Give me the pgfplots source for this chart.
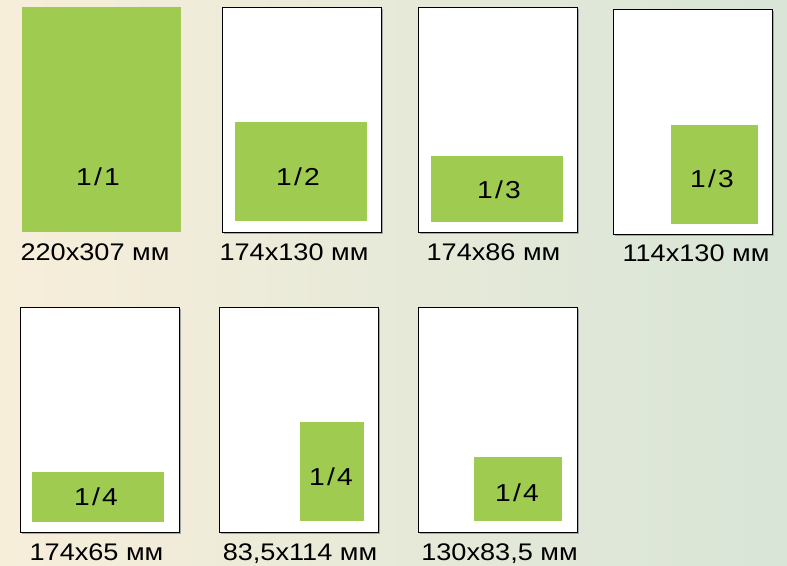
\documentclass[border=0pt]{standalone}
\usepackage{fontspec}
\setmainfont{Liberation Sans}[FakeStretch=1.13]
\newfontfamily\fracfont{Liberation Sans}[FakeStretch=1.15, LetterSpace=9]
\usepackage{pgfplots}
\pgfplotsset{compat=1.18}

\definecolor{bgleft}{HTML}{F7EEDA}
\definecolor{bgright}{HTML}{D8E5D7}
\definecolor{adgreen}{HTML}{9ECB50}

\tikzset{
  frac/.style={font=\fracfont\fontsize{24.5}{29}\selectfont, inner sep=0pt,
               text height=17.5pt, text depth=0pt, anchor=center},
  dim/.style={font=\fontsize{24}{29}\selectfont, inner sep=0pt,
              text height=17.2pt, text depth=0pt, anchor=center},
}

% one rectangle in pixel coordinates: options, x1, y1, x2, y2
\newcommand{\rectbox}[5]{%
  \addplot[#1] coordinates {(#2,#3) (#4,#3) (#4,#5) (#2,#5)} -- cycle;}
% a white page with a thin shadow
\newcommand{\page}[4]{%
  \pgfmathsetmacro{\sa}{#1+1.5}\pgfmathsetmacro{\sb}{#2+1.5}%
  \pgfmathsetmacro{\sc}{#3+1.5}\pgfmathsetmacro{\sd}{#4+1.5}%
  \edef\doshadow{\noexpand\rectbox{draw=none, fill=black!35}{\sa}{\sb}{\sc}{\sd}}%
  \doshadow
  \rectbox{draw=black, line width=1pt, fill=white}{#1}{#2}{#3}{#4}}

\begin{document}
\begin{tikzpicture}
\begin{axis}[
    scale only axis,
    width=787pt, height=565pt,
    xmin=0, xmax=787, ymin=0, ymax=565,
    y dir=reverse,
    hide axis,
    clip=false,
]
% background
\addplot[draw=none, left color=bgleft, right color=bgright]
  coordinates {(0,0) (787,0) (787,565) (0,565)} -- cycle;

% pages
\page{222}{7}{381}{232}
\page{418}{7}{577}{232}
\page{613}{9}{772}{234}
\page{20}{307}{179}{532}
\page{219}{307}{378}{532}
\page{418}{307}{577}{532}

% ad blocks
\rectbox{draw=none, fill=adgreen}{22}{7}{181}{232}
\rectbox{draw=none, fill=adgreen}{235}{122}{367}{221}
\rectbox{draw=none, fill=adgreen}{431}{156}{563}{222}
\rectbox{draw=none, fill=adgreen}{671}{125}{758}{224}
\rectbox{draw=none, fill=adgreen}{32}{472}{164}{522}
\rectbox{draw=none, fill=adgreen}{300}{422}{364}{521}
\rectbox{draw=none, fill=adgreen}{474}{457}{562}{521}

% block labels
\node[frac] at (axis cs:98,177) {1/1};
\node[frac] at (axis cs:298,177) {1/2};
\node[frac] at (axis cs:499,190) {1/3};
\node[frac] at (axis cs:712,179) {1/3};
\node[frac] at (axis cs:96,497) {1/4};
\node[frac] at (axis cs:331,477) {1/4};
\node[frac] at (axis cs:517,493) {1/4};

% sizes
\node[dim] at (axis cs:95,252) {220x307 мм};
\node[dim] at (axis cs:294,252) {174x130 мм};
\node[dim] at (axis cs:493.5,252) {174x86 мм};
\node[dim] at (axis cs:696,253) {114x130 мм};
\node[dim] at (axis cs:96.5,552) {174x65 мм};
\node[dim] at (axis cs:300,552) {83,5x114 мм};
\node[dim] at (axis cs:499.5,552) {130x83,5 мм};
\end{axis}
\end{tikzpicture}
\end{document}
